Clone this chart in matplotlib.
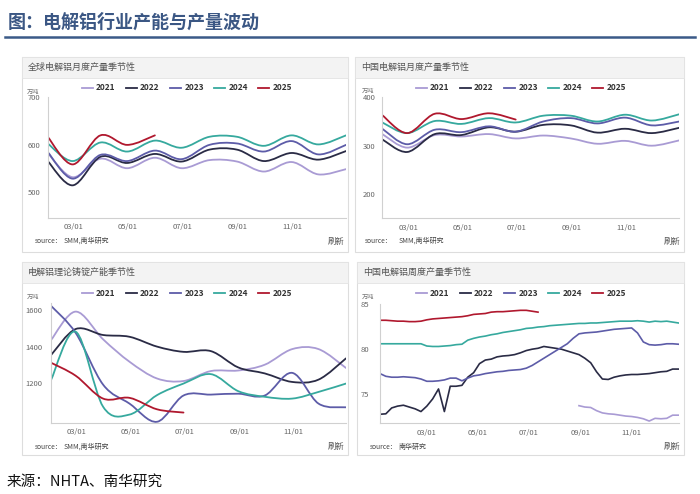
import numpy as np
import pandas as pd
import matplotlib
matplotlib.use("Agg")
import matplotlib.pyplot as plt
import matplotlib.dates as mdates
from matplotlib.path import Path
from matplotlib.patches import PathPatch, Rectangle
from matplotlib.lines import Line2D

plt.rcParams['font.family'] = ['Noto Sans CJK SC', 'DejaVu Sans']

W, H = 700, 494

years = ['2021', '2022', '2023', '2024', '2025']
colors = ['#a99bd4', '#2a2b45', '#5d5ca8', '#36a99e', '#b0182e']

# monthly points (plotted at month end), weekly points
months = pd.date_range('2021-01-31', periods=12, freq='ME')
weeks = pd.date_range('2021-01-04', periods=52, freq='7D')
tick_dates = pd.to_datetime(['2021-03-01', '2021-05-01', '2021-07-01', '2021-09-01', '2021-11-01'])
tick_labels = ['03/01', '05/01', '07/01', '09/01', '11/01']

# 全球电解铝月度产量 (万吨)
g21 = [583, 532, 571, 551, 573, 551, 568, 565, 544, 564, 538, 549]
g22 = [566, 515, 575, 562, 581, 565, 590, 590, 566, 583, 569, 587]
g23 = [585, 529, 579, 566, 588, 570, 600, 603, 586, 608, 580, 600]
g24 = [603, 566, 605, 586, 609, 594, 617, 617, 598, 620, 601, 620]
g25 = [617, 559, 620, 600, 620]

# 中国电解铝月度产量 (万吨)
c21 = [324, 296, 322, 319, 324, 315, 321, 315, 304, 310, 300, 311]
c22 = [313, 287, 324, 322, 338, 329, 343, 342, 327, 335, 326, 337]
c23 = [335, 303, 333, 328, 340, 329, 350, 357, 346, 358, 342, 350]
c24 = [348, 326, 351, 345, 357, 348, 362, 362, 350, 364, 352, 365]
c25 = [363, 326, 366, 355, 367, 354]

# 电解铝理论铸锭产能 (万吨)
t21 = [1436, 1593, 1440, 1316, 1224, 1210, 1265, 1268, 1300, 1386, 1386, 1282]
t22 = [1353, 1497, 1464, 1454, 1400, 1371, 1375, 1285, 1252, 1205, 1218, 1335]
t23 = [1625, 1475, 1190, 1085, 985, 1130, 1135, 1140, 1130, 1255, 1085, 1065]
t24 = [1215, 1482, 1068, 1025, 1132, 1196, 1248, 1154, 1123, 1113, 1150, 1196]
t25 = [1311, 1239, 1113, 1117, 1054, 1036]

# 中国电解铝周度产量 (万吨)
w21 = [np.nan] * 34 + [73.75, 73.6, 73.55, 73.2, 72.95, 72.85, 72.8, 72.7, 72.6,
                       72.55, 72.45, 72.3, 72.05, 72.35, 72.3, 72.35, 72.7, 72.7]
w22 = [72.8, 72.85, 73.5, 73.7, 73.8, 73.6, 73.4, 73.1, 73.7, 74.5,
       75.6, 73.1, 75.9, 75.9, 76.0, 76.9, 77.4, 78.4, 78.8, 78.9,
       79.15, 79.25, 79.3, 79.4, 79.6, 79.85, 80.0, 80.1, 80.3, 80.2,
       80.1, 80.0, 79.8, 79.6, 79.4, 79.0, 78.5, 77.5, 76.7, 76.65,
       76.9, 77.05, 77.15, 77.2, 77.2, 77.25, 77.3, 77.4, 77.5, 77.55,
       77.8, 77.8]
w23 = [77.3, 77.0, 76.9, 76.9, 76.95, 76.9, 76.85, 76.7, 76.45, 76.45,
       76.5, 76.6, 76.8, 76.8, 76.5, 76.8, 77.05, 77.15, 77.3, 77.4,
       77.5, 77.55, 77.65, 77.7, 77.75, 77.9, 78.2, 78.6, 79.0, 79.4,
       79.8, 80.2, 80.6, 81.2, 81.7, 81.8, 81.85, 81.9, 82.0, 82.1,
       82.2, 82.25, 82.3, 82.35, 81.8, 80.8, 80.5, 80.45, 80.5, 80.6,
       80.6, 80.55]
w24 = [80.6, 80.6, 80.6, 80.6, 80.6, 80.6, 80.6, 80.6, 80.35, 80.3,
       80.3, 80.35, 80.4, 80.5, 80.55, 81.0, 81.2, 81.35, 81.45, 81.6,
       81.7, 81.85, 81.95, 82.05, 82.15, 82.3, 82.35, 82.45, 82.5, 82.6,
       82.65, 82.7, 82.75, 82.8, 82.85, 82.85, 82.9, 82.9, 82.95, 83.0,
       83.05, 83.1, 83.1, 83.1, 83.15, 83.1, 83.0, 83.1, 83.05, 83.1,
       83.0, 82.9]
w25 = [83.2, 83.2, 83.15, 83.1, 83.1, 83.05, 83.05, 83.1, 83.25, 83.35,
       83.4, 83.45, 83.5, 83.55, 83.6, 83.7, 83.85, 83.9, 83.95, 84.1,
       84.15, 84.15, 84.2, 84.25, 84.3, 84.3, 84.2, 84.1]

fig = plt.figure(figsize=(7, 4.94), dpi=100)


def fx(px):
    return px / W


def fy(py):
    return 1 - py / H


# smooth line through the points (like echarts smooth), drawn as bezier path
def smooth_line(ax, dates, vals, color):
    x = mdates.date2num(dates[:len(vals)].to_pydatetime())
    pts = np.column_stack([x, np.asarray(vals, float)])
    n = len(pts)
    verts = [pts[0]]
    codes = [Path.MOVETO]
    for i in range(n - 1):
        p0 = pts[max(i - 1, 0)]
        p1 = pts[i]
        p2 = pts[i + 1]
        p3 = pts[min(i + 2, n - 1)]
        verts += [p1 + (p2 - p0) / 6, p2 - (p3 - p1) / 6, p2]
        codes += [Path.CURVE4] * 3
    ax.add_patch(PathPatch(Path(verts, codes), fill=False, edgecolor=color,
                           lw=1.3, capstyle='round', joinstyle='round'))


def card(l, t, r, b, hb, title):
    fig.add_artist(Rectangle((fx(l), fy(b)), (r - l) / W, (b - t) / H, transform=fig.transFigure,
                             facecolor='white', edgecolor='#dddddd', lw=0.8, zorder=-2))
    fig.add_artist(Rectangle((fx(l), fy(hb)), (r - l) / W, (hb - t) / H, transform=fig.transFigure,
                             facecolor='#f3f3f3', edgecolor='#e3e3e3', lw=0.6, zorder=-1))
    fig.text(fx(l + 6), fy((t + hb) / 2), title, fontsize=6.5, color='#555555', va='center')


def panel(box, ylim, yticks, xdates, ypad):
    l, t, r, b = box
    ax = fig.add_axes([fx(l), fy(b), (r - l) / W, (b - t) / H])
    ax.set_facecolor('none')
    ax.set_xlim(mdates.date2num(xdates[0].to_pydatetime()), mdates.date2num(xdates[1].to_pydatetime()))
    ax.set_ylim(*ylim)
    ax.set_yticks(yticks)
    ax.set_xticks(mdates.date2num(tick_dates.to_pydatetime()))
    ax.set_xticklabels(tick_labels)
    for s in ['top', 'right']:
        ax.spines[s].set_visible(False)
    for s in ['left', 'bottom']:
        ax.spines[s].set_color('#d0d0d0')
        ax.spines[s].set_linewidth(0.8)
    ax.tick_params(axis='both', length=0, labelsize=5.5, labelcolor='#666666')
    ax.tick_params(axis='y', pad=ypad)
    ax.tick_params(axis='x', pad=4)
    return ax


def legend(cx, cy):
    handles = [Line2D([], [], color=c, lw=1.3) for c in colors]
    fig.legend(handles, years, loc='center', bbox_to_anchor=(fx(cx), fy(cy)), ncol=5,
               frameon=False, prop={'size': 6, 'weight': 'bold'}, labelcolor='#333333',
               handlelength=1.3, handletextpad=0.4, columnspacing=1.25)


def footer(x1, x2, y, src, xr):
    fig.text(fx(x1), fy(y), 'source：', fontsize=4.8, color='#444444', va='center')
    fig.text(fx(x2), fy(y), src, fontsize=5, color='#444444', va='center', style='italic')
    fig.text(fx(xr), fy(y), '刷新', fontsize=6, color='#555555', va='center', ha='right')


mrange = (pd.Timestamp('2021-01-31'), pd.Timestamp('2021-12-31'))
wrange = (pd.Timestamp('2021-01-04'), pd.Timestamp('2021-12-28'))

# header
fig.text(fx(8), fy(22), '图：电解铝行业产能与产量波动', fontsize=13, weight='bold',
         color='#3b5784', va='center')
fig.add_artist(Line2D([fx(5), fx(695)], [fy(37), fy(37)], lw=1.8, color='#3b5a88'))

# panel 1
card(22, 57, 348, 252, 78, '全球电解铝月度产量季节性')
ax1 = panel((47.7, 97.3, 346, 217.7), (447, 700), [500, 600, 700], mrange, 5)
for vals, c in zip([g21, g22, g23, g24, g25], colors):
    smooth_line(ax1, months, vals, c)
legend(187, 88)
fig.text(fx(27), fy(91.5), '万吨', fontsize=4.5, color='#777777', va='center')
footer(35, 64, 241, 'SMM,南华研究', 345)

# panel 2
card(355, 57, 684, 252, 78, '中国电解铝月度产量季节性')
ax2 = panel((382.3, 97.3, 679.3, 218.3), (150, 400), [200, 300, 400], mrange, 5)
for vals, c in zip([c21, c22, c23, c24, c25], colors):
    smooth_line(ax2, months, vals, c)
legend(521, 88)
fig.text(fx(362), fy(90.5), '万吨', fontsize=4.5, color='#777777', va='center')
footer(365, 399, 241, 'SMM,南华研究', 680)

# panel 3
card(22, 262, 348, 455, 283, '电解铝理论铸锭产能季节性')
ax3 = panel((51, 303.1, 346, 422.7), (980, 1640), [1200, 1400, 1600], mrange, 6)
for vals, c in zip([t21, t22, t23, t24, t25], colors):
    smooth_line(ax3, months, vals, c)
legend(187, 293.7)
fig.text(fx(27), fy(297), '万吨', fontsize=4.5, color='#777777', va='center')
footer(35, 64, 446.7, 'SMM,南华研究', 345)

# panel 4
card(356.7, 262, 684, 455, 283, '中国电解铝周度产量季节性')
ax4 = panel((380, 304, 679.3, 423.3), (71.8, 85), [75, 80, 85], wrange, 8)
wx = mdates.date2num(weeks.to_pydatetime())
for vals, c in zip([w21, w22, w23, w24, w25], colors):
    ax4.plot(wx[:len(vals)], vals, color=c, lw=1.2)
legend(521, 293.7)
fig.text(fx(362), fy(297), '万吨', fontsize=4.5, color='#777777', va='center')
footer(370, 399, 446.7, '南华研究', 680)

fig.text(fx(7), fy(482), '来源：NHTA、南华研究', fontsize=10.5, color='#111111', va='center')

fig.savefig('out.png', dpi=100)
